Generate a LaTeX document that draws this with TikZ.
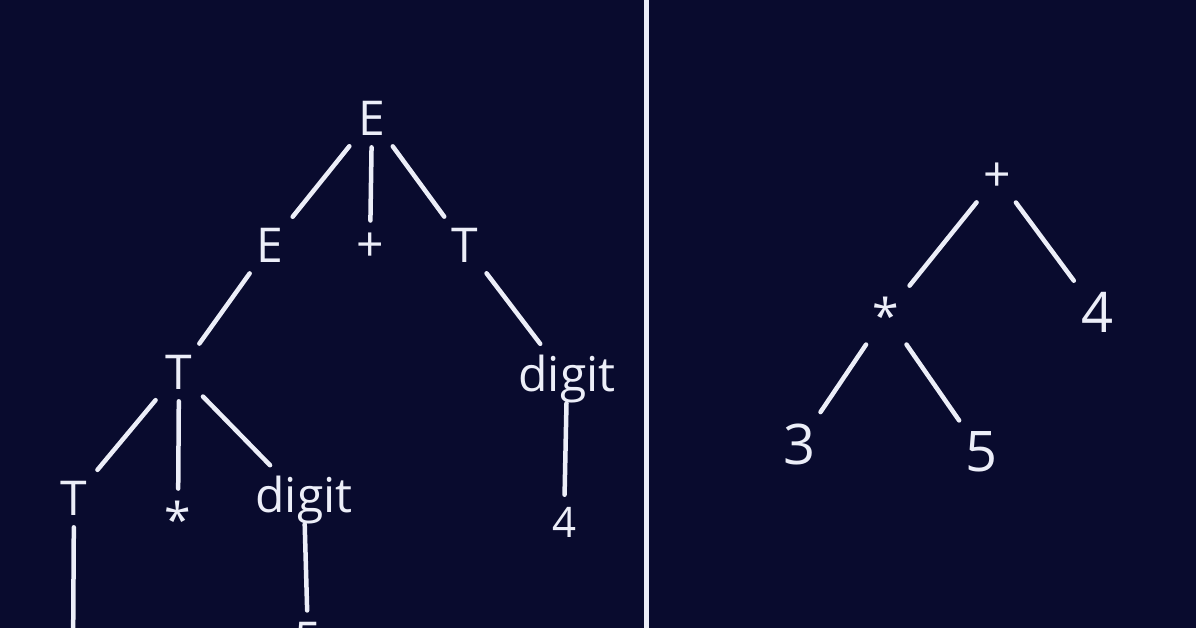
\documentclass[tikz,border=0pt]{standalone}
\usepackage{fontspec}
\setmainfont{Open Sans}
\definecolor{bg}{RGB}{9,11,46}
\definecolor{fg}{RGB}{236,238,248}

\begin{document}
\begin{tikzpicture}[
  x = 1pt, y = -1pt,
  every node/.style = {text = fg, inner sep = 7pt, font = \fontsize{48}{48}\selectfont},
  small/.style = {font = \fontsize{42}{42}\selectfont},
  big/.style = {font = \fontsize{56}{56}\selectfont},
  link/.style = {draw = fg, line width = 4.5pt, line cap = round, shorten < = 5pt, shorten > = 5pt},
  ]
  \fill[bg] (0,0) rectangle (1196,628);
  \useasboundingbox (0,0) rectangle (1196,628);
  \clip (0,0) rectangle (1196,628);

  % parse tree
  \node (e)    at (372,118) {E};
  \node (e2)   at (270,245) {E};
  \node (plus) at (370,247) {+};
  \node (t1)   at (465,245) {T};
  \node (t2)   at (179,372) {T};
  \node (d1)   at (567,379) {digit};
  \node (t3)   at (74,498)  {T};
  \node (star) at (178,519) {*};
  \node (d2)   at (304,500) {digit};
  \node[small] (four) at (564,522) {4};
  \node (five) at (308,640) {5};
  \coordinate (t3end) at (73,660);

  \draw[link] (e) -- (e2);
  \draw[link] (e) -- (plus);
  \draw[link] (e) -- (t1);
  \draw[link] (e2) -- (t2);
  \draw[link] (t1) -- (d1);
  \draw[link] (t2) -- (t3);
  \draw[link] (t2) -- (star);
  \draw[link] (t2) -- (d2);
  \draw[link, shorten < = -7pt] (d1) -- (four);
  \draw[link] (t3) -- (t3end);
  \draw[link, shorten < = -7pt] (d2) -- (five);

  % divider
  \coordinate (top) at (646,0);
  \coordinate (bot) at (646,628);
  \draw[fg, line width = 5pt] (top) -- (bot);

  % syntax tree
  \node (rplus)  at (997,177) {+};
  \node (rstar)  at (886,315) {*};
  \node[big] (rfour)  at (1097,312) {4};
  \node[big] (rthree) at (799,444) {3};
  \node[big] (rfive)  at (981,452) {5};

  \draw[link] (rplus) -- (rstar);
  \draw[link] (rplus) -- (rfour);
  \draw[link] (rstar) -- (rthree);
  \draw[link] (rstar) -- (rfive);
\end{tikzpicture}
\end{document}
